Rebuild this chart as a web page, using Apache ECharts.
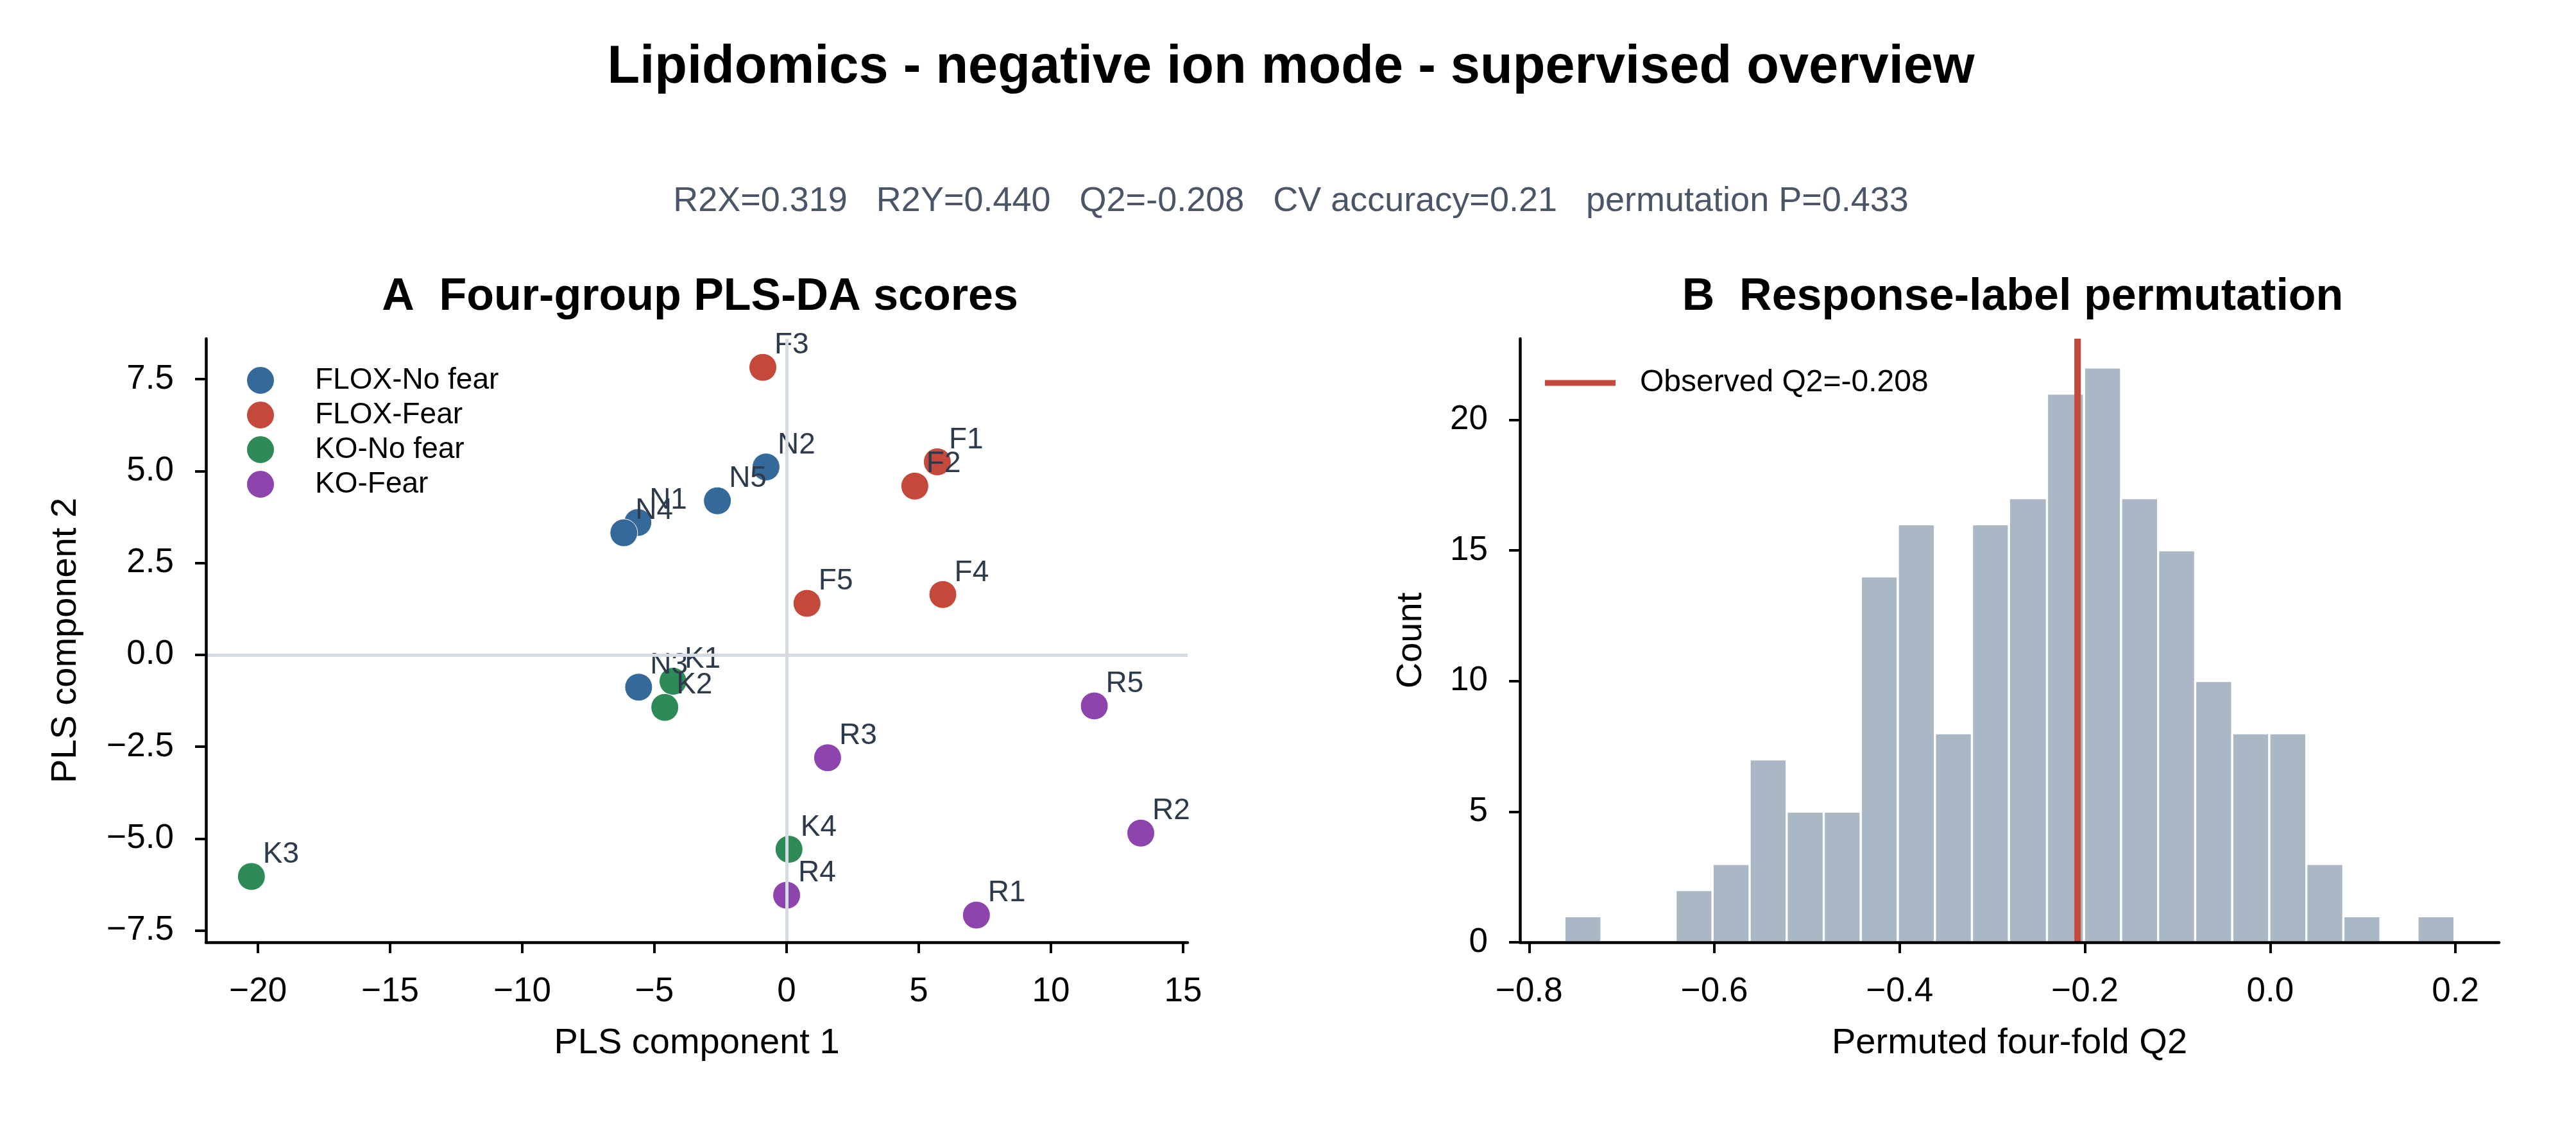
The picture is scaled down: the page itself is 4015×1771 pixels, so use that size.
<!DOCTYPE html>
<html>
<head>
<meta charset="utf-8">
<script src="https://cdn.jsdelivr.net/npm/echarts@6/dist/echarts.min.js"></script>
<style>body{margin:0;background:#fff}</style>
</head>
<body>
<div id="chart" style="width:4015px;height:1771px"></div>
<script>
var font = 'Liberation Sans, Arial, sans-serif';

// panel A: PLS-DA scores per group
var groupNames = ['FLOX-No fear', 'FLOX-Fear', 'KO-No fear', 'KO-Fear'];
var groupColors = ['#35699a', '#c4493b', '#2e8b57', '#8e44ad'];

var floxNoFearIds = ['N1', 'N2', 'N3', 'N4', 'N5'];
var floxNoFearX = [-5.63, -0.78, -5.60, -6.16, -2.62];
var floxNoFearY = [3.60, 5.11, -0.88, 3.32, 4.19];

var floxFearIds = ['F1', 'F2', 'F3', 'F4', 'F5'];
var floxFearX = [5.70, 4.85, -0.90, 5.91, 0.77];
var floxFearY = [5.25, 4.59, 7.82, 1.64, 1.40];

var koNoFearIds = ['K1', 'K2', 'K3', 'K4'];
var koNoFearX = [-4.30, -4.61, -20.25, 0.09];
var koNoFearY = [-0.72, -1.43, -6.03, -5.29];

var koFearIds = ['R1', 'R2', 'R3', 'R4', 'R5'];
var koFearX = [7.18, 13.40, 1.55, 0.00, 11.64];
var koFearY = [-7.08, -4.85, -2.80, -6.54, -1.39];

var scoreXTicks = [-20, -15, -10, -5, 0, 5, 10, 15];
var scoreYTicks = [-7.5, -5, -2.5, 0, 2.5, 5, 7.5];

// panel B: permutation histogram
var binEdges = [-0.762, -0.722, -0.682, -0.642, -0.602, -0.562, -0.522, -0.482, -0.442,
  -0.402, -0.362, -0.322, -0.282, -0.241, -0.201, -0.161, -0.121, -0.081, -0.041,
  -0.001, 0.039, 0.079, 0.119, 0.159, 0.199];
var binCounts = [1, 0, 0, 2, 3, 7, 5, 5, 14, 16, 8, 16, 17, 21, 22, 17, 15, 10, 8, 8, 3, 1, 0, 1];
var observedQ2 = -0.208;
var permXTicks = [-0.8, -0.6, -0.4, -0.2, 0.0, 0.2];
var countTicks = [0, 5, 10, 15, 20];

function fmt(v, d) {
  var s = Math.abs(v).toFixed(d);
  return v < 0 ? '\u2212' + s : s;
}

function points(ids, xs, ys) {
  var out = [];
  for (var i = 0; i < ids.length; i++) {
    out.push({ name: ids[i], value: [xs[i], ys[i]] });
  }
  return out;
}

var groups = [
  points(floxNoFearIds, floxNoFearX, floxNoFearY),
  points(floxFearIds, floxFearX, floxFearY),
  points(koNoFearIds, koNoFearX, koNoFearY),
  points(koFearIds, koFearX, koFearY)
];

var hist = [];
for (var i = 0; i < binCounts.length; i++) {
  hist.push([binEdges[i], binEdges[i + 1], binCounts[i]]);
}

function axis(idx, min, max, ticks, digits, margin, name, gap) {
  return {
    type: 'value', gridIndex: idx, min: min, max: max, z: 5,
    name: name, nameLocation: 'middle', nameGap: gap,
    nameTextStyle: { fontSize: 56, color: '#000', fontFamily: font },
    axisLine: { onZero: false, lineStyle: { color: '#000', width: 4.5 } },
    axisTick: { customValues: ticks, length: 17, lineStyle: { color: '#000', width: 4 } },
    axisLabel: {
      customValues: ticks, fontSize: 53, color: '#000', fontFamily: font, margin: margin,
      formatter: function (v) { return fmt(v, digits); }
    },
    splitLine: { show: false }
  };
}

var series = [{
  type: 'scatter', xAxisIndex: 0, yAxisIndex: 0, data: [], z: 1, silent: true,
  markLine: {
    silent: true, symbol: 'none', label: { show: false },
    lineStyle: { color: '#d5dbe3', width: 5, type: 'solid', opacity: 1 },
    data: [{ xAxis: 0 }, { yAxis: 0 }]
  }
}];

for (var g = 0; g < groups.length; g++) {
  series.push({
    name: groupNames[g], type: 'scatter', xAxisIndex: 0, yAxisIndex: 0, z: 3,
    data: groups[g], symbolSize: 43,
    itemStyle: { color: groupColors[g], opacity: 1, borderColor: '#fff', borderWidth: 1 },
    label: {
      show: true, position: [40, -12], align: 'left', verticalAlign: 'middle',
      formatter: '{b}', fontSize: 46, color: '#2d3a4b', fontFamily: font
    }
  });
}

series.push({
  type: 'custom', xAxisIndex: 1, yAxisIndex: 1, data: hist, z: 2,
  renderItem: function (params, api) {
    var c = api.value(2);
    if (!c) return null;
    var p0 = api.coord([api.value(0), c]);
    var p1 = api.coord([api.value(1), 0]);
    return {
      type: 'rect',
      shape: { x: p0[0], y: p0[1], width: p1[0] - p0[0], height: p1[1] - p0[1] },
      style: { fill: '#aab8c5', stroke: '#fff', lineWidth: 3.3 }
    };
  }
});

series.push({
  name: 'Observed Q2=-0.208', type: 'line', xAxisIndex: 1, yAxisIndex: 1, z: 4,
  data: [[observedQ2, 0], [observedQ2, 23.1]], symbol: 'none',
  itemStyle: { color: '#c4483b' },
  lineStyle: { color: '#c4483b', width: 10 }
});

var chart = echarts.init(document.getElementById('chart'));
chart.setOption({
  animation: false,
  backgroundColor: '#fff',
  title: [
    { text: 'Lipidomics - negative ion mode - supervised overview', left: 2007, textAlign: 'center', top: 60,
      textStyle: { fontSize: 83, fontWeight: 'bold', color: '#000', fontFamily: font } },
    { text: 'R2X=0.319   R2Y=0.440   Q2=-0.208   CV accuracy=0.21   permutation P=0.433', left: 2007, textAlign: 'center', top: 282,
      textStyle: { fontSize: 54, fontWeight: 'normal', color: '#4a5568', fontFamily: font } },
    { text: 'A  Four-group PLS-DA scores', left: 1086, textAlign: 'center', top: 424,
      textStyle: { fontSize: 70, fontWeight: 'bold', color: '#000', fontFamily: font } },
    { text: 'B  Response-label permutation', left: 3132, textAlign: 'center', top: 424,
      textStyle: { fontSize: 70, fontWeight: 'bold', color: '#000', fontFamily: font } }
  ],
  legend: [
    { data: groupNames, orient: 'vertical', left: 378, top: 565, icon: 'circle',
      itemWidth: 44, itemHeight: 44, itemGap: 8, selectedMode: false,
      textStyle: { fontSize: 46, color: '#000', fontFamily: font, padding: [0, 0, 0, 58] } },
    { data: [{ name: 'Observed Q2=-0.208', icon: 'rect' }], left: 2403, top: 568,
      itemWidth: 110, itemHeight: 9, selectedMode: false,
      textStyle: { fontSize: 48, color: '#000', fontFamily: font, padding: [0, 0, 0, 33] } }
  ],
  grid: [
    { left: 321, top: 528, width: 1530, height: 941 },
    { left: 2369, top: 528, width: 1526, height: 941 }
  ],
  xAxis: [
    axis(0, -21.97, 15.17, scoreXTicks, 0, 51, 'PLS component 1', 130),
    axis(1, -0.81, 0.247, permXTicks, 1, 51, 'Permuted four-fold Q2', 130)
  ],
  yAxis: [
    axis(0, -7.82, 8.6, scoreYTicks, 1, 50, 'PLS component 2', 190),
    axis(1, 0, 23.1, countTicks, 0, 50, 'Count', 141)
  ],
  series: series
});
</script>
</body>
</html>
